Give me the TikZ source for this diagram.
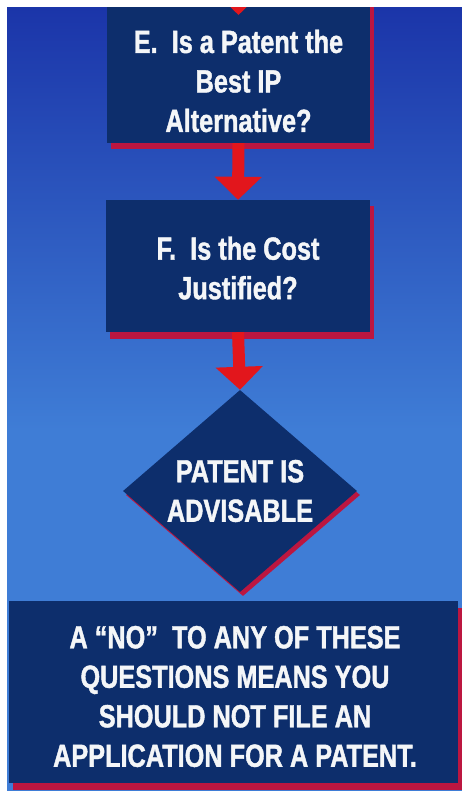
\documentclass[tikz,border=0pt]{standalone}
\usepackage{fontspec}
\setmainfont{Liberation Sans}[FakeStretch=0.79, BoldFeatures={FakeBold=1.3}]
\usetikzlibrary{arrows.meta,shapes.geometric,shadows}

\definecolor{bgtop}{HTML}{1B35A9}
\definecolor{bgbot}{HTML}{3F7DD6}
\definecolor{navy}{HTML}{0D2E6C}
\definecolor{shadowred}{HTML}{BC1640}
\definecolor{arrowred}{HTML}{E2161C}
\definecolor{lettering}{HTML}{F4F6F8}

\tikzset{
  card/.style={rectangle, fill=navy, inner sep=0pt,
    drop shadow={shadow xshift=4pt, shadow yshift=-6.5pt, fill=shadowred, opacity=1}},
  caption/.style={text=lettering, font=\bfseries\fontsize{32}{39.5}\selectfont,
    align=center, inner sep=0pt},
  flow/.style={draw=arrowred, line width=12pt, -{Triangle[width=46pt,length=23pt]}},
}

\begin{document}
\begin{tikzpicture}[x=1pt,y=-1pt]
  \useasboundingbox (0,0) rectangle (462,791);
  \fill[white] (0,0) rectangle (462,791);
  \clip (7,8) rectangle (462,791);

  % backdrop: deep blue at the top fading to a lighter blue
  \shade[top color=bgtop, bottom color=bgbot] (7,8) rectangle (462,430);
  \fill[bgbot] (7,429) rectangle (462,791);

  % step E (continues from a step above)
  \node[card, minimum width=263pt, minimum height=160pt] (Ebox) at (238.5,63) {};
  \node[caption] (Etext) at (238.5,81) {E.\ \ Is a Patent the\\Best IP\\Alternative?};

  % step F
  \node[card, minimum width=264pt, minimum height=132pt] (Fbox) at (238,266) {};
  \node[caption] (Ftext) at (238,268) {F.\ \ Is the Cost\\Justified?};

  % outcome
  \node[diamond, fill=navy, minimum width=234pt, minimum height=202pt, aspect=1.16,
        inner sep=0pt,
        drop shadow={shadow xshift=3pt, shadow yshift=-4pt, fill=shadowred, opacity=1}]
        (G) at (240,491) {};
  \node[caption] (Gtext) at (240,491) {PATENT IS\\ADVISABLE};

  % closing note
  \node[card, minimum width=449pt, minimum height=182pt] (Hbox) at (233.5,692) {};
  \node[caption] (Htext) at (235,696.5)
    {A “NO”\ \ TO ANY OF THESE\\QUESTIONS MEANS YOU\\SHOULD NOT FILE AN\\APPLICATION FOR A PATENT.};

  % connectors
  \coordinate (Ein) at (238.5,-30);
  \coordinate (Etip) at (238.5,15);
  \draw[flow] (Ein) -- (Etip);
  \draw[flow] (Ebox.south) -- (Fbox.north);
  \draw[flow] (Fbox.south) -- (G.north);
\end{tikzpicture}
\end{document}
